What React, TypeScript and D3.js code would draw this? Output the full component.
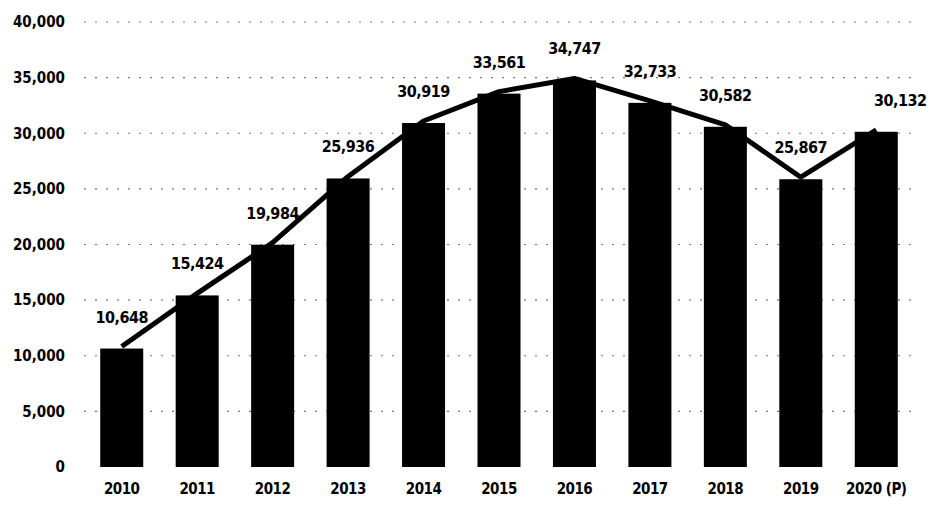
import React from "react";
import * as d3 from "d3";

const years = ["2010", "2011", "2012", "2013", "2014", "2015", "2016", "2017", "2018", "2019", "2020 (P)"];
const values = [10648, 15424, 19984, 25936, 30919, 33561, 34747, 32733, 30582, 25867, 30132];
const yTicks = [0, 5000, 10000, 15000, 20000, 25000, 30000, 35000, 40000];

const W = 932;
const H = 506;
const plot = { left: 84, right: 914, top: 22, bottom: 467 };
const font = "'Liberation Sans Narrow', 'DejaVu Sans Condensed', 'Arial Narrow', sans-serif";

export default function App() {
  const x = d3.scaleBand<string>().domain(years).range([plot.left, plot.right]).paddingInner(0.43).paddingOuter(0.215);
  const y = d3.scaleLinear().domain([0, 40000]).range([plot.bottom, plot.top]);
  const fmt = d3.format(",");
  const cx = (d: string) => (x(d) as number) + x.bandwidth() / 2;
  const line = d3
    .line<number>()
    .x((_, i) => cx(years[i]))
    .y((v) => y(v) - 2);

  return (
    <svg width={W} height={H} style={{ position: "absolute", left: 0, top: 0, background: "#fff" }}>
      {yTicks.map((t) => (
        <g key={t}>
          {t > 0 && (
            <line x1={plot.left} x2={plot.right} y1={y(t)} y2={y(t)} stroke="#777" strokeWidth={1.2} strokeDasharray="2 9" />
          )}
          <text x={65} y={y(t)} dy="0.35em" textAnchor="end" fontFamily={font} fontWeight="bold" fontSize={15} fill="#000">
            {fmt(t)}
          </text>
        </g>
      ))}
      {years.map((yr, i) => (
        <rect key={yr} x={x(yr)} y={y(values[i])} width={x.bandwidth()} height={plot.bottom - y(values[i])} fill="#000" />
      ))}
      <path d={line(values) || ""} fill="none" stroke="#000" strokeWidth={5} strokeLinejoin="round" />
      {years.map((yr, i) => (
        <text key={"l" + yr} x={cx(yr) + (i === 10 ? 24 : 0)} y={y(values[i]) - 26} textAnchor="middle" fontFamily={font} fontWeight="bold" fontSize={16} fill="#000" letterSpacing={-0.5}>
          {fmt(values[i])}
        </text>
      ))}
      {years.map((yr) => (
        <text key={"x" + yr} x={cx(yr)} y={494} textAnchor="middle" fontFamily={font} fontWeight="bold" fontSize={15} fill="#000" letterSpacing={-0.5}>
          {yr}
        </text>
      ))}
    </svg>
  );
}
